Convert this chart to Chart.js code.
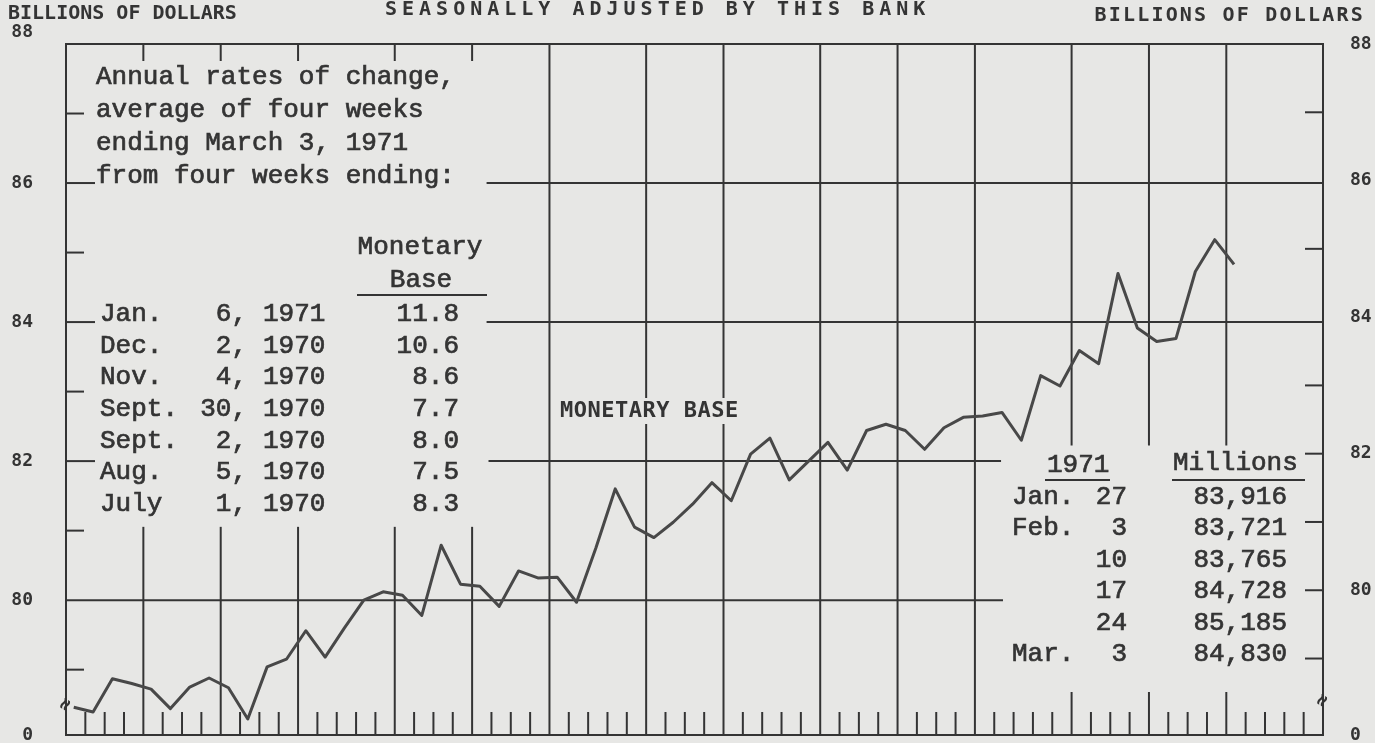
<!DOCTYPE html>
<html>
<head>
<meta charset="utf-8">
<title>Monetary Base</title>
<script src="https://cdn.jsdelivr.net/npm/chart.js@4.4.1/dist/chart.umd.min.js"></script>
<style>
  html, body { margin: 0; padding: 0; background: #e7e7e5; overflow: hidden; }
  #wrap { position: relative; width: 1375px; height: 743px; }
</style>
</head>
<body>
<div id="wrap"><canvas id="chart"></canvas></div>
<script>
// Wednesdays per month on the chart, Jan 1970 .. Mar 1971 (one slot per week)
const monthNames = ['Jan 1970', 'Feb', 'Mar', 'Apr', 'May', 'Jun', 'Jul', 'Aug', 'Sep', 'Oct', 'Nov', 'Dec', 'Jan 1971', 'Feb', 'Mar'];
const weeksPerMonth = [4, 4, 4, 5, 4, 4, 5, 4, 5, 4, 4, 5, 4, 4, 5];

// monetary base, billions of dollars, weeks ending Jan 7 1970 .. Mar 3 1971
const monetaryBase = [
  78.46, 78.39, 78.87, 78.80, 78.72, 78.44, 78.75, 78.88, 78.74, 78.29,
  79.04, 79.15, 79.56, 79.18, 79.60, 80.00, 80.12, 80.07, 79.78, 80.79,
  80.23, 80.20, 79.91, 80.42, 80.32, 80.33, 79.97, 80.75, 81.60, 81.05,
  80.90, 81.12, 81.38, 81.69, 81.43, 82.10, 82.33, 81.73, 82.00, 82.27,
  81.87, 82.44, 82.53, 82.44, 82.17, 82.48, 82.63, 82.65, 82.70, 82.30,
  83.23, 83.08, 83.59, 83.40, 84.70, 83.916, 83.721, 83.765, 84.728, 85.185,
  84.830
];

// y axis: 78 is shown as "0" (broken scale)
const yMin = 78.06;
const yMax = 88;
const yTicks = [80, 82, 84, 86, 88];
// the right-hand scale is drawn slightly tighter on the scan
const y2Min = 77.88;

// inset table: annual rates of change to four weeks ending March 3, 1971
const rateMonths = ['Jan.', 'Dec.', 'Nov.', 'Sept.', 'Sept.', 'Aug.', 'July'];
const rateDays = [6, 2, 4, 30, 2, 5, 1];
const rateYears = [1971, 1970, 1970, 1970, 1970, 1970, 1970];
const rateValues = [11.8, 10.6, 8.6, 7.7, 8.0, 7.5, 8.3];

// inset table: last six weeks (values are the last six points of the series)
const recentMonths = ['Jan.', 'Feb.', '', '', '', 'Mar.'];
const recentDays = [27, 3, 10, 17, 24, 3];

const ink = '#343434';
const paper = '#e7e7e5';
const typeFont = '"Liberation Mono", "Courier New", monospace';
const stampFont = '"DejaVu Sans Mono", monospace';
const totalWeeks = weeksPerMonth.reduce((a, b) => a + b, 0);

function line(ctx, x1, y1, x2, y2) {
  ctx.beginPath();
  ctx.moveTo(x1, y1);
  ctx.lineTo(x2, y2);
  ctx.stroke();
}

function text(ctx, s, x, y, font, align, spacing, inked) {
  ctx.font = font;
  ctx.textAlign = align || 'left';
  ctx.textBaseline = 'middle';
  ctx.letterSpacing = spacing || '0px';
  ctx.fillText(s, x, y);
  if (inked) {
    ctx.save();
    ctx.lineWidth = 0.7;
    ctx.strokeText(s, x, y);
    ctx.restore();
  }
  ctx.letterSpacing = '0px';
}

// chart paper: frame, month rules, week ticks, partial grid lines
const paperLines = {
  id: 'paperLines',
  beforeDatasetsDraw(chart) {
    const { ctx, chartArea } = chart;
    const { left, right, top, bottom } = chartArea;
    const x = chart.scales.x, y = chart.scales.y, y2 = chart.scales.y2;
    ctx.save();
    ctx.strokeStyle = ink;
    ctx.lineWidth = 2;
    ctx.lineCap = 'square';
    ctx.strokeRect(left, top, right - left, bottom - top);

    // month boundaries
    const boundaries = [];
    let w = 0;
    weeksPerMonth.forEach((n, m) => {
      w += n;
      if (w < totalWeeks) boundaries.push({ w: w, m: m + 1 });
    });
    boundaries.forEach(b => {
      const px = x.getPixelForValue(b.w);
      if (b.m <= 5) {
        line(ctx, px, top, px, top + 16);
        line(ctx, px, y.getPixelForValue(81.04), px, bottom);
      } else if (b.m <= 11) {
        line(ctx, px, top, px, bottom);
      } else {
        line(ctx, px, top, px, y.getPixelForValue(82.24));
        line(ctx, px, bottom - 42, px, bottom);
      }
    });

    // weekly ticks along the bottom
    const monthStarts = boundaries.map(b => b.w);
    for (let k = 1; k < totalWeeks; k++) {
      if (monthStarts.includes(k)) continue;
      const px = x.getPixelForValue(k);
      line(ctx, px, bottom, px, bottom - 22);
    }

    // partial horizontal rules
    const rules = [
      { v: 86, from: 21.8, to: totalWeeks },
      { v: 84, from: 21.8, to: totalWeeks },
      { v: 82, from: 21.9, to: 48.3 },
      { v: 80, from: 0, to: 48.4 }
    ];
    rules.forEach(r => {
      const py = y.getPixelForValue(r.v);
      line(ctx, x.getPixelForValue(r.from), py, x.getPixelForValue(r.to), py);
    });

    // left stubs
    [79, 81, 83, 85, 87].forEach(v => {
      const py = y.getPixelForValue(v);
      line(ctx, left, py, left + 17, py);
    });
    [82, 84, 86].forEach(v => {
      const py = y.getPixelForValue(v);
      line(ctx, left, py, left + 28, py);
    });
    // right stubs
    [79, 80, 81, 82, 83, 85, 87].forEach(v => {
      const py = y2.getPixelForValue(v);
      line(ctx, right - 17, py, right, py);
    });
    ctx.restore();
  }
};

// typed and stamped notes
const notes = {
  id: 'notes',
  afterDatasetsDraw(chart) {
    const { ctx, chartArea } = chart;
    const { left, right, bottom } = chartArea;
    ctx.save();
    ctx.fillStyle = ink;
    ctx.strokeStyle = ink;
    ctx.lineWidth = 2;

    // headings
    text(ctx, 'BILLIONS OF DOLLARS', 8, 14, 'bold 20px ' + stampFont, 'left', '0px');
    text(ctx, 'SEASONALLY ADJUSTED BY THIS BANK', 385, 10, 'bold 20px ' + stampFont, 'left', '5px');
    text(ctx, 'BILLIONS OF DOLLARS', 1365, 16, 'bold 20px ' + stampFont, 'right', '2.2px');

    // left "88" sits above the frame on the scan
    text(ctx, String(yMax), 33, 32, 'bold 18px ' + stampFont, 'right');

    // series label with cleared background
    ctx.fillStyle = paper;
    ctx.fillRect(556, 398, 190, 26);
    ctx.fillStyle = ink;
    text(ctx, 'MONETARY BASE', 560, 411, 'bold 22px ' + stampFont, 'left', '0.5px');

    // rates note
    const f = '26px ' + typeFont;
    ['Annual rates of change,', 'average of four weeks', 'ending March 3, 1971', 'from four weeks ending:']
      .forEach((s, i) => text(ctx, s, 96, 77 + i * 33, f, 'left', '0px', true));
    text(ctx, 'Monetary', 420, 247, f, 'center', '0px', true);
    text(ctx, 'Base', 421, 280, f, 'center', '0px', true);
    line(ctx, 357, 295, 487, 295);
    rateMonths.forEach((m, i) => {
      const py = 314 + i * 31.7;
      text(ctx, m, 100, py, f, 'left', '0px', true);
      text(ctx, rateDays[i] + ',', 247, py, f, 'right', '0px', true);
      text(ctx, String(rateYears[i]), 263, py, f, 'left', '0px', true);
      text(ctx, rateValues[i].toFixed(1), 459, py, f, 'right', '0px', true);
    });

    // recent weeks note
    text(ctx, '1971', 1047, 465, f, 'left', '0px', true);
    line(ctx, 1045, 480, 1110, 480);
    text(ctx, 'Millions', 1173, 463, f, 'left', '0px', true);
    line(ctx, 1172, 480, 1305, 480);
    const recent = monetaryBase.slice(-6);
    recent.forEach((v, i) => {
      const py = 497 + i * 31.5;
      if (recentMonths[i]) text(ctx, recentMonths[i], 1012, py, f, 'left', '0px', true);
      text(ctx, String(recentDays[i]), 1127, py, f, 'right', '0px', true);
      text(ctx, Math.round(v * 1000).toLocaleString('en-US'), 1287, py, f, 'right', '0px', true);
    });

    // scale-break marks
    [[left, bottom - 30], [right, bottom - 34]].forEach(p => {
      ctx.save();
      ctx.translate(p[0], p[1]);
      ctx.rotate(-Math.PI / 3);
      text(ctx, '\u2248', 0, 0, 'bold 20px ' + stampFont, 'center');
      ctx.restore();
    });
    ctx.restore();
  }
};

const tickFont = { family: 'DejaVu Sans Mono', weight: 'bold', size: 18 };

new Chart(document.getElementById('chart'), {
  type: 'line',
  data: {
    datasets: [{
      label: 'Monetary base',
      data: monetaryBase.map((v, i) => ({ x: i + 0.4, y: v })),
      borderColor: '#484848',
      borderWidth: 3,
      borderJoinStyle: 'round',
      pointRadius: 0,
      tension: 0,
      fill: false
    }, {
      label: 'right scale',
      yAxisID: 'y2',
      data: []
    }]
  },
  options: {
    responsive: true,
    maintainAspectRatio: false,
    animation: false,
    layout: { padding: { top: 44, left: 0, right: 0, bottom: 8 } },
    plugins: {
      legend: { display: false },
      tooltip: { enabled: false },
      title: { display: false }
    },
    scales: {
      x: {
        type: 'linear',
        display: false,
        min: 0,
        max: totalWeeks
      },
      y: {
        position: 'left',
        min: yMin,
        max: yMax,
        // 88 is drawn separately, above the frame
        afterBuildTicks(s) { s.ticks = [yMin].concat(yTicks.slice(0, -1)).map(v => ({ value: v })); },
        ticks: {
          padding: 33,
          color: ink,
          font: tickFont,
          callback: v => (v === yMin ? '0' : String(v))
        },
        grid: { display: false, drawTicks: false },
        border: { display: false },
        afterFit(s) { s.width = 66; s.paddingTop = 0; s.paddingBottom = 0; }
      },
      y2: {
        position: 'right',
        min: y2Min,
        max: yMax,
        afterBuildTicks(s) { s.ticks = [y2Min].concat(yTicks).map(v => ({ value: v })); },
        ticks: {
          padding: 27,
          color: ink,
          font: tickFont,
          callback: v => (v === y2Min ? '0' : String(v))
        },
        grid: { display: false, drawTicks: false },
        border: { display: false },
        afterFit(s) { s.width = 52; s.paddingTop = 0; s.paddingBottom = 0; }
      }
    }
  },
  plugins: [paperLines, notes]
});
</script>
</body>
</html>
